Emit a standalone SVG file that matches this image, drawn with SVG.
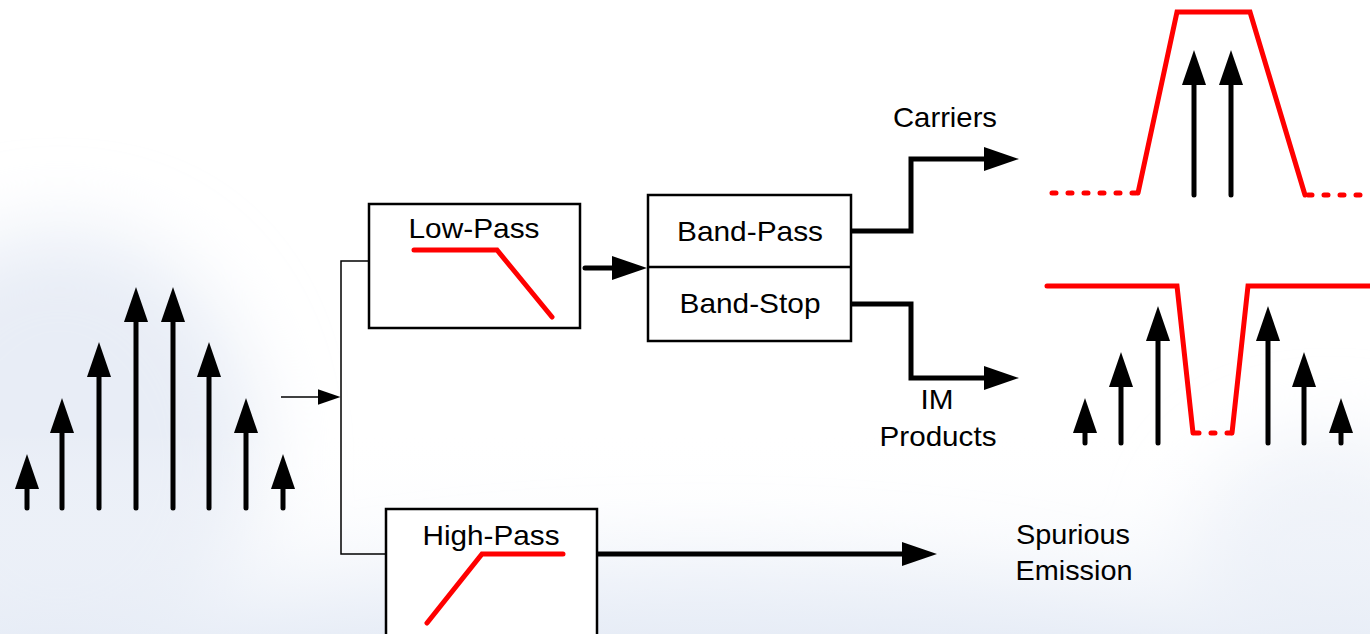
<svg xmlns="http://www.w3.org/2000/svg" width="1370" height="634" viewBox="0 0 1370 634">
  <style>
    .box { fill: #ffffff; stroke: #000000; stroke-width: 2.5; }
    .lbl { font-family: "Liberation Sans", Arial, sans-serif; font-size: 28px; fill: #000000; text-anchor: middle; }
    .wire { fill: none; stroke: #000000; stroke-width: 5; stroke-linecap: round; stroke-linejoin: miter; }
    .thin { fill: none; stroke: #000000; stroke-width: 1.5; }
    .tone { fill: none; stroke: #000000; stroke-width: 5; stroke-linecap: round; marker-end: url(#head); }
    .resp { fill: none; stroke: #ff0000; stroke-width: 5; stroke-linecap: round; stroke-linejoin: miter; }
    .dots { fill: none; stroke: #ff0000; stroke-width: 5; stroke-linecap: round; stroke-dasharray: 4 12; }
  </style>
  <defs>
    <marker id="head" markerUnits="userSpaceOnUse" markerWidth="36" markerHeight="26" viewBox="0 -13 36 26" refX="1" refY="0" orient="auto">
      <path d="M0,-12 L35,0 L0,12 Z" fill="#000000"/>
    </marker>
    <marker id="headSmall" markerUnits="userSpaceOnUse" markerWidth="24" markerHeight="18" viewBox="0 -9 24 18" refX="0.5" refY="0" orient="auto">
      <path d="M0,-8 L23,0 L0,8 Z" fill="#000000"/>
    </marker>
    <linearGradient id="floor" x1="0" y1="0" x2="0" y2="1">
      <stop offset="0" stop-color="#ffffff" stop-opacity="0"/>
      <stop offset="1" stop-color="#e6ecf6"/>
    </linearGradient>
    <filter id="soft" x="-50%" y="-50%" width="200%" height="200%">
      <feGaussianBlur stdDeviation="40"/>
    </filter>
  </defs>

  <!-- backdrop: white sky fading into a pale blue haze at the bottom -->
  <rect x="0" y="0" width="1370" height="634" fill="#ffffff"/>
  <g filter="url(#soft)">
    <ellipse cx="60" cy="460" rx="200" ry="230" fill="#e8edf6"/>
    <ellipse cx="700" cy="680" rx="520" ry="110" fill="#e9eef7"/>
    <ellipse cx="1330" cy="560" rx="140" ry="120" fill="#edf1f8"/>
  </g>
  <rect x="0" y="430" width="1370" height="204" fill="url(#floor)" opacity="0.7"/>

  <!-- input spectrum: eight tones -->
  <g id="input-spectrum">
    <path class="tone" d="M27,508 V488"/>
    <path class="tone" d="M62,508 V432"/>
    <path class="tone" d="M99,508 V376"/>
    <path class="tone" d="M136,508 V321"/>
    <path class="tone" d="M173,508 V321"/>
    <path class="tone" d="M209,508 V376"/>
    <path class="tone" d="M246,508 V432"/>
    <path class="tone" d="M283,508 V488"/>
  </g>

  <!-- connectors -->
  <g id="connectors">
    <path class="thin" d="M281,397 H318" marker-end="url(#headSmall)"/>
    <path class="thin" d="M369,261 H341 V554 H386"/>
    <path class="wire" d="M585,268 H613" marker-end="url(#head)"/>
    <path class="wire" d="M851,231 H911 V159 H985" marker-end="url(#head)"/>
    <path class="wire" d="M851,304 H911 V378 H985" marker-end="url(#head)"/>
    <path class="wire" d="M597,554 H903" marker-end="url(#head)"/>
  </g>

  <!-- low-pass filter -->
  <g id="low-pass">
    <rect class="box" x="369" y="204" width="211" height="124"/>
    <text class="lbl" x="474" y="238" textLength="131" lengthAdjust="spacingAndGlyphs">Low-Pass</text>
    <polyline class="resp" points="414,250 497,250 552,317"/>
  </g>

  <!-- band-pass / band-stop filter pair -->
  <g id="band-filters">
    <rect class="box" x="648" y="195" width="203" height="146"/>
    <line x1="648" y1="267" x2="851" y2="267" stroke="#000000" stroke-width="2.5"/>
    <text class="lbl" x="750" y="241" textLength="146" lengthAdjust="spacingAndGlyphs">Band-Pass</text>
    <text class="lbl" x="750" y="313" textLength="141" lengthAdjust="spacingAndGlyphs">Band-Stop</text>
  </g>

  <!-- high-pass filter -->
  <g id="high-pass">
    <rect class="box" x="386" y="509" width="211" height="140"/>
    <text class="lbl" x="491" y="545" textLength="137" lengthAdjust="spacingAndGlyphs">High-Pass</text>
    <polyline class="resp" points="427,623 482,554 563,554"/>
  </g>

  <!-- output labels -->
  <g id="label-carriers">
    <text class="lbl" x="945" y="127" textLength="104" lengthAdjust="spacingAndGlyphs">Carriers</text>
  </g>
  <g id="label-im">
    <text class="lbl" x="937" y="409" textLength="33" lengthAdjust="spacingAndGlyphs">IM</text>
    <text class="lbl" x="938" y="446" textLength="117" lengthAdjust="spacingAndGlyphs">Products</text>
  </g>
  <g id="label-spurious">
    <text class="lbl" x="1073" y="544" textLength="114" lengthAdjust="spacingAndGlyphs">Spurious</text>
    <text class="lbl" x="1074" y="580" textLength="117" lengthAdjust="spacingAndGlyphs">Emission</text>
  </g>

  <!-- carriers after band-pass -->
  <g id="carrier-spectrum">
    <line class="dots" x1="1052" y1="193" x2="1136" y2="193"/>
    <polyline class="resp" points="1138,193 1177,12 1250,12 1305,195"/>
    <line class="dots" x1="1308" y1="195" x2="1370" y2="195"/>
    <path class="tone" d="M1194,195 V84"/>
    <path class="tone" d="M1231,195 V84"/>
  </g>

  <!-- intermodulation products after band-stop -->
  <g id="im-spectrum">
    <polyline class="resp" points="1047,286 1177,286 1193,433"/>
    <line class="dots" x1="1195" y1="433" x2="1231" y2="433"/>
    <polyline class="resp" points="1232,433 1248,286 1370,286"/>
    <path class="tone" d="M1085,443 V432"/>
    <path class="tone" d="M1121,443 V386"/>
    <path class="tone" d="M1158,443 V340"/>
    <path class="tone" d="M1268,443 V340"/>
    <path class="tone" d="M1304,443 V386"/>
    <path class="tone" d="M1341,443 V432"/>
  </g>
</svg>
